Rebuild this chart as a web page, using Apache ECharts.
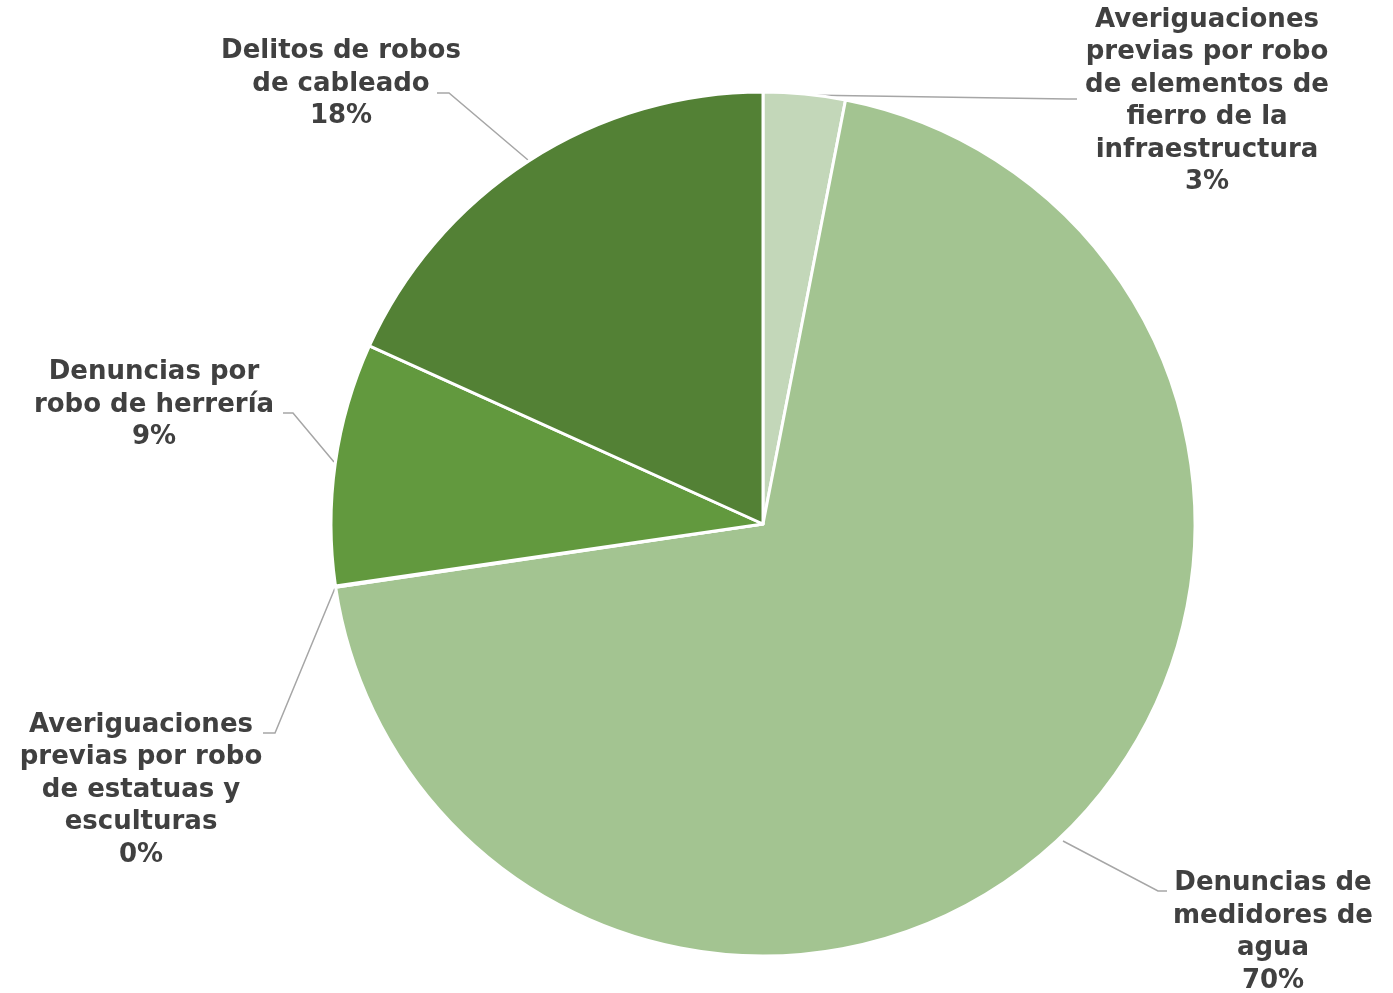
<!DOCTYPE html>
<html>
<head>
<meta charset="utf-8">
<script src="https://cdn.jsdelivr.net/npm/echarts@6/dist/echarts.min.js"></script>
<style>
  html, body { margin: 0; padding: 0; background: #fff; }
  #pie-chart { width: 1393px; height: 993px; }
</style>
</head>
<body>
<div id="pie-chart"></div>
<script>
// categories, clockwise from 12 o'clock
const categories = [
  'Averiguaciones\nprevias por robo\nde elementos de\nfierro de la\ninfraestructura',
  'Denuncias de\nmedidores de\nagua',
  'Averiguaciones\nprevias por robo\nde estatuas y\nesculturas',
  'Denuncias por\nrobo de herrería',
  'Delitos de robos\nde cableado'
]
// share of each slice (percent)
const values = [3.06, 69.6, 0.05, 9.05, 18.24]
const colors = ['#c3d7b9', '#a3c491', '#ffffff', '#62993e', '#538135']

// label placement (centre of text block) and leader lines, in px
const labelPos = [
  { x: 1207, y: 101, line: [[804, 95], [1068, 99], [1077, 99]] },
  { x: 1273, y: 932, line: [[1063, 841], [1158, 891], [1167, 891]] },
  { x: 141, y: 790, line: [[335, 588], [275, 733], [263, 733]] },
  { x: 154, y: 405, line: [[334, 462], [293, 413], [283, 413]] },
  { x: 341, y: 84, line: [[528, 160], [449, 93], [437, 93]] }
]

const chart = echarts.init(document.getElementById('pie-chart'))
chart.setOption({
  animation: false,
  series: [{
    type: 'pie',
    center: [763, 524],
    radius: 432,
    startAngle: 90,
    clockwise: true,
    percentPrecision: 0,
    itemStyle: { borderColor: '#ffffff', borderWidth: 3 },
    label: {
      show: true,
      formatter: '{b}\n{d}%',
      fontFamily: 'DejaVu Sans',
      fontWeight: 'bold',
      fontSize: 26,
      lineHeight: 32.5,
      color: '#404040',
      align: 'center'
    },
    labelLine: {
      show: true,
      lineStyle: { color: '#a6a6a6', width: 1.5 }
    },
    labelLayout: function (params) {
      const p = labelPos[params.dataIndex]
      return {
        x: p.x,
        y: p.y,
        align: 'center',
        verticalAlign: 'middle',
        labelLinePoints: p.line
      }
    },
    emphasis: { disabled: true },
    data: categories.map((name, i) => ({
      name: name,
      value: values[i],
      itemStyle: { color: colors[i] }
    }))
  }]
})
</script>
</body>
</html>
